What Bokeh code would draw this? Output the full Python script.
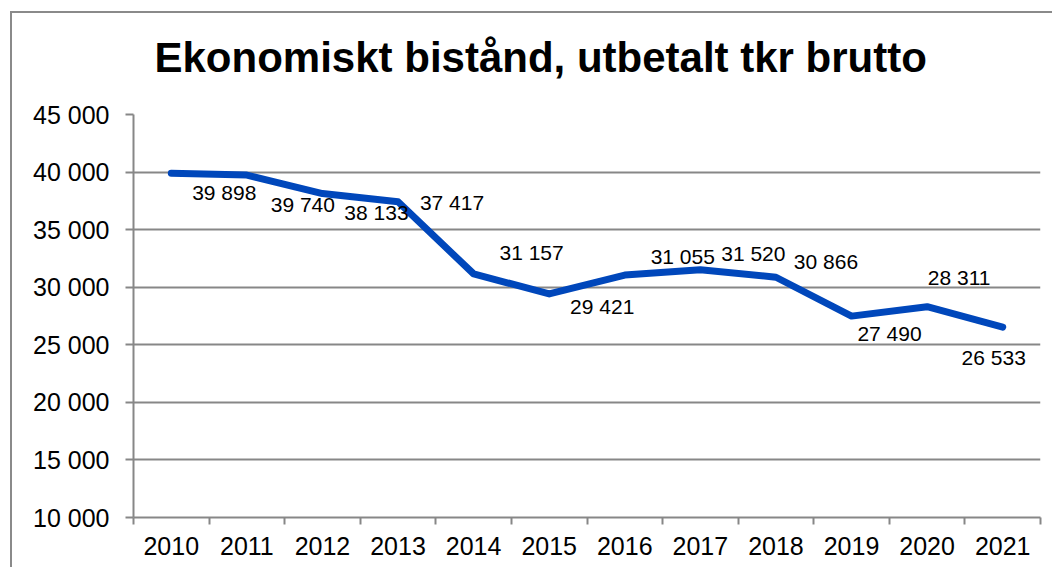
from bokeh.plotting import figure
from bokeh.models import (Range1d, FixedTicker, ColumnDataSource, LabelSet, Title)
from bokeh.embed import file_html
from bokeh.resources import INLINE
from bokeh.core.properties import value

# ---- data ----
years = ["2010", "2011", "2012", "2013", "2014", "2015",
         "2016", "2017", "2018", "2019", "2020", "2021"]
amounts = [39898, 39740, 38133, 37417, 31157, 29421,
           31055, 31520, 30866, 27490, 28311, 26533]
amount_labels = ["39 898", "39 740", "38 133", "37 417", "31 157", "29 421",
                 "31 055", "31 520", "30 866", "27 490", "28 311", "26 533"]
y_ticks = [10000, 15000, 20000, 25000, 30000, 35000, 40000, 45000]
y_tick_labels = ["10 000", "15 000", "20 000", "25 000", "30 000",
                 "35 000", "40 000", "45 000"]
title_text = "Ekonomiskt bistånd, utbetalt tkr brutto"

# ---- label placement (style) ----
lab_dx = [53, 56, 54, 54, 58, 53, 58, 53, 50, 38, 32, -9]
lab_dy = [-19, -29, -19, -1, 21, -13, 19, 16, 16, -17, 29, -30]

FONT = "Liberation Sans"
GRID = "#878787"

n = len(years)
xc = [i + 0.5 for i in range(n)]

p = figure(width=1042, height=556, output_backend="svg", toolbar_location=None,
           x_range=Range1d(0, n), y_range=Range1d(10000, 45000),
           min_border_left=121, min_border_right=14, min_border_top=101,
           min_border_bottom=52)
p.margin = (11, 0, 0, 10)
p.styles = {"border-top": "2px solid #8a8a8a", "border-left": "2px solid #8a8a8a"}
p.outline_line_color = None
p.background_fill_color = "white"
p.border_fill_color = "white"

# spacer between title and plot area, then the title itself
p.add_layout(Title(text=" ", text_font_size="1px", standoff=10), "above")
p.add_layout(Title(text=title_text, align="left", offset=21, standoff=38,
                   vertical_align="top", text_font=FONT, text_font_size="42px",
                   text_font_style="bold", text_color="black"), "above")

# y axis
p.yaxis.ticker = FixedTicker(ticks=y_ticks)
p.yaxis.major_label_overrides = {t: l for t, l in zip(y_ticks, y_tick_labels)}
p.yaxis.axis_line_color = GRID
p.yaxis.axis_line_width = 2
p.yaxis.major_tick_line_color = GRID
p.yaxis.major_tick_line_width = 2
p.yaxis.major_tick_out = 8
p.yaxis.major_tick_in = 0
p.yaxis.minor_tick_line_color = None
p.yaxis.major_label_text_font = FONT
p.yaxis.major_label_text_font_size = "25px"
p.yaxis.major_label_text_color = "black"
p.yaxis.major_label_standoff = 16

# x axis: labels at centres, tick marks at boundaries
p.xaxis.ticker = FixedTicker(ticks=xc, minor_ticks=list(range(n + 1)))
p.xaxis.major_label_overrides = {x: y for x, y in zip(xc, years)}
p.xaxis.axis_line_color = GRID
p.xaxis.axis_line_width = 2
p.xaxis.major_tick_line_color = None
p.xaxis.major_tick_out = 0
p.xaxis.major_tick_in = 0
p.xaxis.minor_tick_line_color = GRID
p.xaxis.minor_tick_line_width = 2
p.xaxis.minor_tick_out = 7
p.xaxis.minor_tick_in = 0
p.xaxis.major_label_text_font = FONT
p.xaxis.major_label_text_font_size = "25px"
p.xaxis.major_label_text_color = "black"
p.xaxis.major_label_standoff = 12

p.xgrid.grid_line_color = None
p.ygrid.grid_line_color = GRID
p.ygrid.grid_line_width = 2

src = ColumnDataSource(dict(x=xc, y=amounts, lab=amount_labels,
                            dx=lab_dx, dy=lab_dy))
p.line("x", "y", source=src, line_color="#0047BB", line_width=7,
       line_join="round", line_cap="round")

labels = LabelSet(x="x", y="y", text="lab", source=src, x_offset="dx", y_offset="dy",
                  text_align="center", text_baseline="middle",
                  text_font=value(FONT), text_font_size="21px", text_color="black")
p.add_layout(labels)

open("out.html", "w").write(file_html(p, INLINE))
